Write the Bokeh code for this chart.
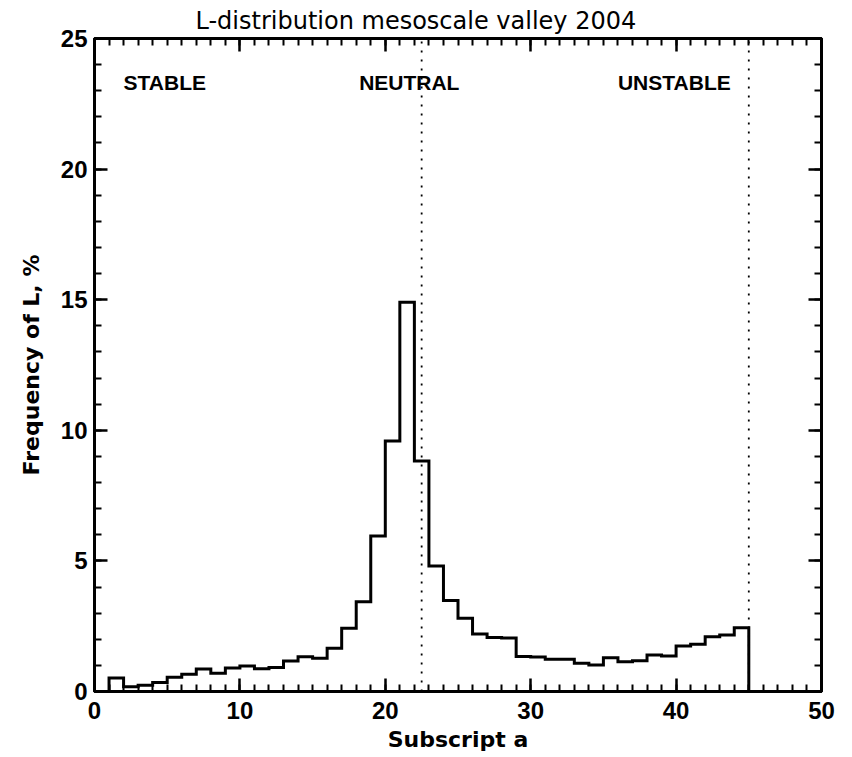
import numpy as np
from bokeh.plotting import figure
from bokeh.models import LinearAxis, SingleIntervalTicker, Range1d, Label, CustomJSTickFormatter
from bokeh.embed import file_html
from bokeh.resources import INLINE

# Histogram data: bins of width 1 starting at x=1
bin_start = 1
bin_width = 1
freq = [0.52, 0.18, 0.24, 0.34, 0.55, 0.66, 0.86, 0.70, 0.90, 0.98,
        0.87, 0.92, 1.17, 1.33, 1.27, 1.66, 2.42, 3.44, 5.95, 9.59,
        14.9, 8.82, 4.80, 3.48, 2.80, 2.20, 2.07, 2.05, 1.34, 1.32,
        1.23, 1.23, 1.08, 1.01, 1.29, 1.14, 1.18, 1.40, 1.36, 1.74,
        1.81, 2.10, 2.16, 2.44]
regime_labels = ["STABLE", "NEUTRAL", "UNSTABLE"]
regime_label_x = [2.0, 18.2, 36.0]
regime_label_y = 23.3
boundaries = [22.5, 45.0]

FONT = "Liberation Sans"
LFONT = "DejaVu Sans"
TFONT = "DejaVu Sans"

edges = bin_start + bin_width * np.arange(len(freq) + 1)
xs = [edges[0]]
ys = [0.0]
for i, f in enumerate(freq):
    xs += [edges[i], edges[i + 1]]
    ys += [f, f]
xs.append(edges[-1])
ys.append(0.0)

p = figure(width=852, height=757, output_backend="svg", toolbar_location=None,
           x_range=Range1d(0, 50), y_range=Range1d(0, 25),
           min_border_left=94, min_border_right=31, min_border_top=38, min_border_bottom=66,
           x_axis_label="Subscript a", y_axis_label="Frequency of L, %")

p.title.text = "L-distribution mesoscale valley 2004"
p.title.align = "left"
p.title.offset = 101
p.title.text_font = TFONT
p.title.text_font_size = "24px"
p.title.text_font_style = "normal"
p.title.text_color = "black"
p.title.standoff = 7

p.grid.visible = False
p.outline_line_color = "black"
p.outline_line_width = 3
p.background_fill_color = "white"
p.border_fill_color = "white"

def style_axis(ax, ticker, show_labels=True):
    ax.ticker = ticker
    ax.axis_line_width = 3
    ax.axis_line_color = "black"
    ax.major_tick_in = 13
    ax.major_tick_out = 0
    ax.minor_tick_in = 7
    ax.minor_tick_out = 0
    ax.major_tick_line_width = 2.5
    ax.minor_tick_line_width = 2
    ax.major_tick_line_color = "black"
    ax.minor_tick_line_color = "black"
    if show_labels:
        ax.major_label_text_font = FONT
        ax.major_label_text_font_size = "24px"
        ax.major_label_text_font_style = "bold"
        ax.major_label_text_color = "black"
        ax.axis_label_text_font = LFONT
        ax.axis_label_text_font_size = "22px"
        ax.axis_label_text_font_style = "bold"
        ax.axis_label_text_color = "black"
    else:
        ax.formatter = CustomJSTickFormatter(code="return '';")
        ax.major_label_standoff = 0
        ax.axis_label = None

xt = SingleIntervalTicker(interval=10, num_minor_ticks=10)
yt = SingleIntervalTicker(interval=5, num_minor_ticks=5)
style_axis(p.xaxis[0], xt)
style_axis(p.yaxis[0], yt)
p.xaxis[0].major_label_standoff = 10
p.xaxis[0].axis_label_standoff = 5
p.yaxis[0].major_label_standoff = 7
p.yaxis[0].axis_label_standoff = 14

top = LinearAxis()
right = LinearAxis()
style_axis(top, SingleIntervalTicker(interval=10, num_minor_ticks=10), show_labels=False)
style_axis(right, SingleIntervalTicker(interval=5, num_minor_ticks=5), show_labels=False)
p.add_layout(top, "above")
p.add_layout(right, "right")

for b in boundaries:
    p.line([b, b], [0, 25], line_color="black", line_width=1.8, line_dash="2 7")

p.line(xs, ys, line_color="black", line_width=3, line_join="miter")

for t, x in zip(regime_labels, regime_label_x):
    p.add_layout(Label(x=x, y=regime_label_y, text=t, text_font=FONT,
                       text_font_size="21px", text_font_style="bold",
                       text_color="black", text_baseline="middle"))

open("out.html", "w").write(file_html(p, INLINE))
